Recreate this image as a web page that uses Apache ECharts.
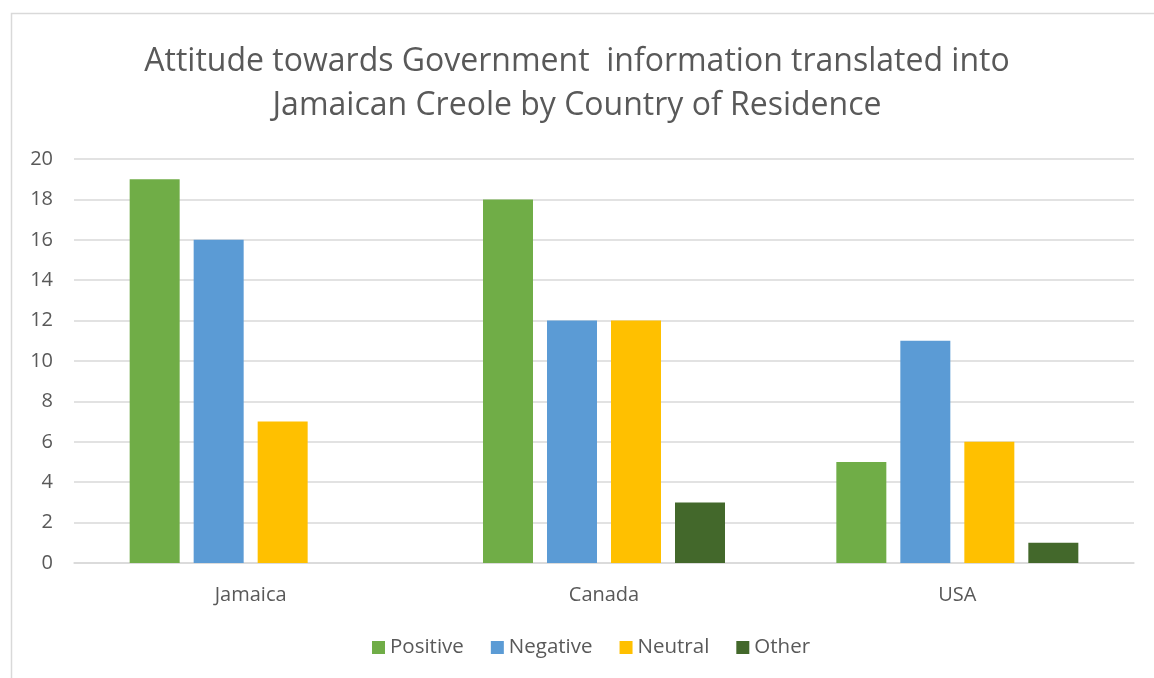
<!DOCTYPE html>
<html>
<head>
<meta charset="utf-8">
<script src="https://cdn.jsdelivr.net/npm/echarts@6/dist/echarts.min.js"></script>
<style>
  html, body { margin: 0; padding: 0; background: #fff; }
  #chart { width: 1154px; height: 678px; }
</style>
</head>
<body>
<div id="chart"></div>
<script>
// categories and series values
const countries = ['Jamaica', 'Canada', 'USA'];
const positive = [19, 18, 5];
const negative = [16, 12, 11];
const neutral = [7, 12, 6];
const other = [0, 3, 1];
const yTicks = [0, 2, 4, 6, 8, 10, 12, 14, 16, 18, 20];

const font = '"Open Sans", Lato, "Liberation Sans", sans-serif';
const chart = echarts.init(document.getElementById('chart'), null, { renderer: 'canvas' });

function bar(name, data, color) {
    return {
        name: name,
        type: 'bar',
        data: data,
        barWidth: 50,
        barGap: '28%',
        itemStyle: { color: color },
        emphasis: { disabled: true }
    };
}

chart.setOption({
    animation: false,
    graphic: [{
        type: 'rect',
        shape: { x: 11.5, y: 13.5, width: 1160, height: 700 },
        style: { fill: 'none', stroke: '#d9d9d9', lineWidth: 1.5 },
        silent: true
    }],
    title: {
        text: 'Attitude towards Government  information translated into\nJamaican Creole by Country of Residence',
        left: 'center',
        top: 40,
        padding: 0,
        textStyle: {
            fontFamily: font,
            fontSize: 32,
            fontWeight: 'normal',
            color: '#595959',
            lineHeight: 44
        }
    },
    legend: {
        bottom: 15,
        left: 367,
        itemWidth: 13,
        itemHeight: 13,
        itemGap: 27,
        icon: 'rect',
        textStyle: { fontFamily: font, fontSize: 20.5, color: '#595959' },
        data: ['Positive', 'Negative', 'Neutral', 'Other']
    },
    grid: { left: 74, right: 20, top: 159, bottom: 115, containLabel: false },
    xAxis: {
        type: 'category',
        data: countries,
        axisLine: { lineStyle: { color: '#d9d9d9', width: 1.5 } },
        axisTick: { show: false },
        axisLabel: { fontFamily: font, fontSize: 20, color: '#595959', margin: 22 }
    },
    yAxis: {
        type: 'value',
        min: yTicks[0],
        max: yTicks[yTicks.length - 1],
        interval: 2,
        axisLine: { show: false },
        axisTick: { show: false },
        axisLabel: { fontFamily: font, fontSize: 20, color: '#595959', margin: 21 },
        splitLine: { lineStyle: { color: '#d9d9d9', width: 1.5 } }
    },
    series: [
        bar('Positive', positive, '#70ad47'),
        bar('Negative', negative, '#5b9bd5'),
        bar('Neutral', neutral, '#ffc000'),
        bar('Other', other, '#43682b')
    ]
});
</script>
</body>
</html>
